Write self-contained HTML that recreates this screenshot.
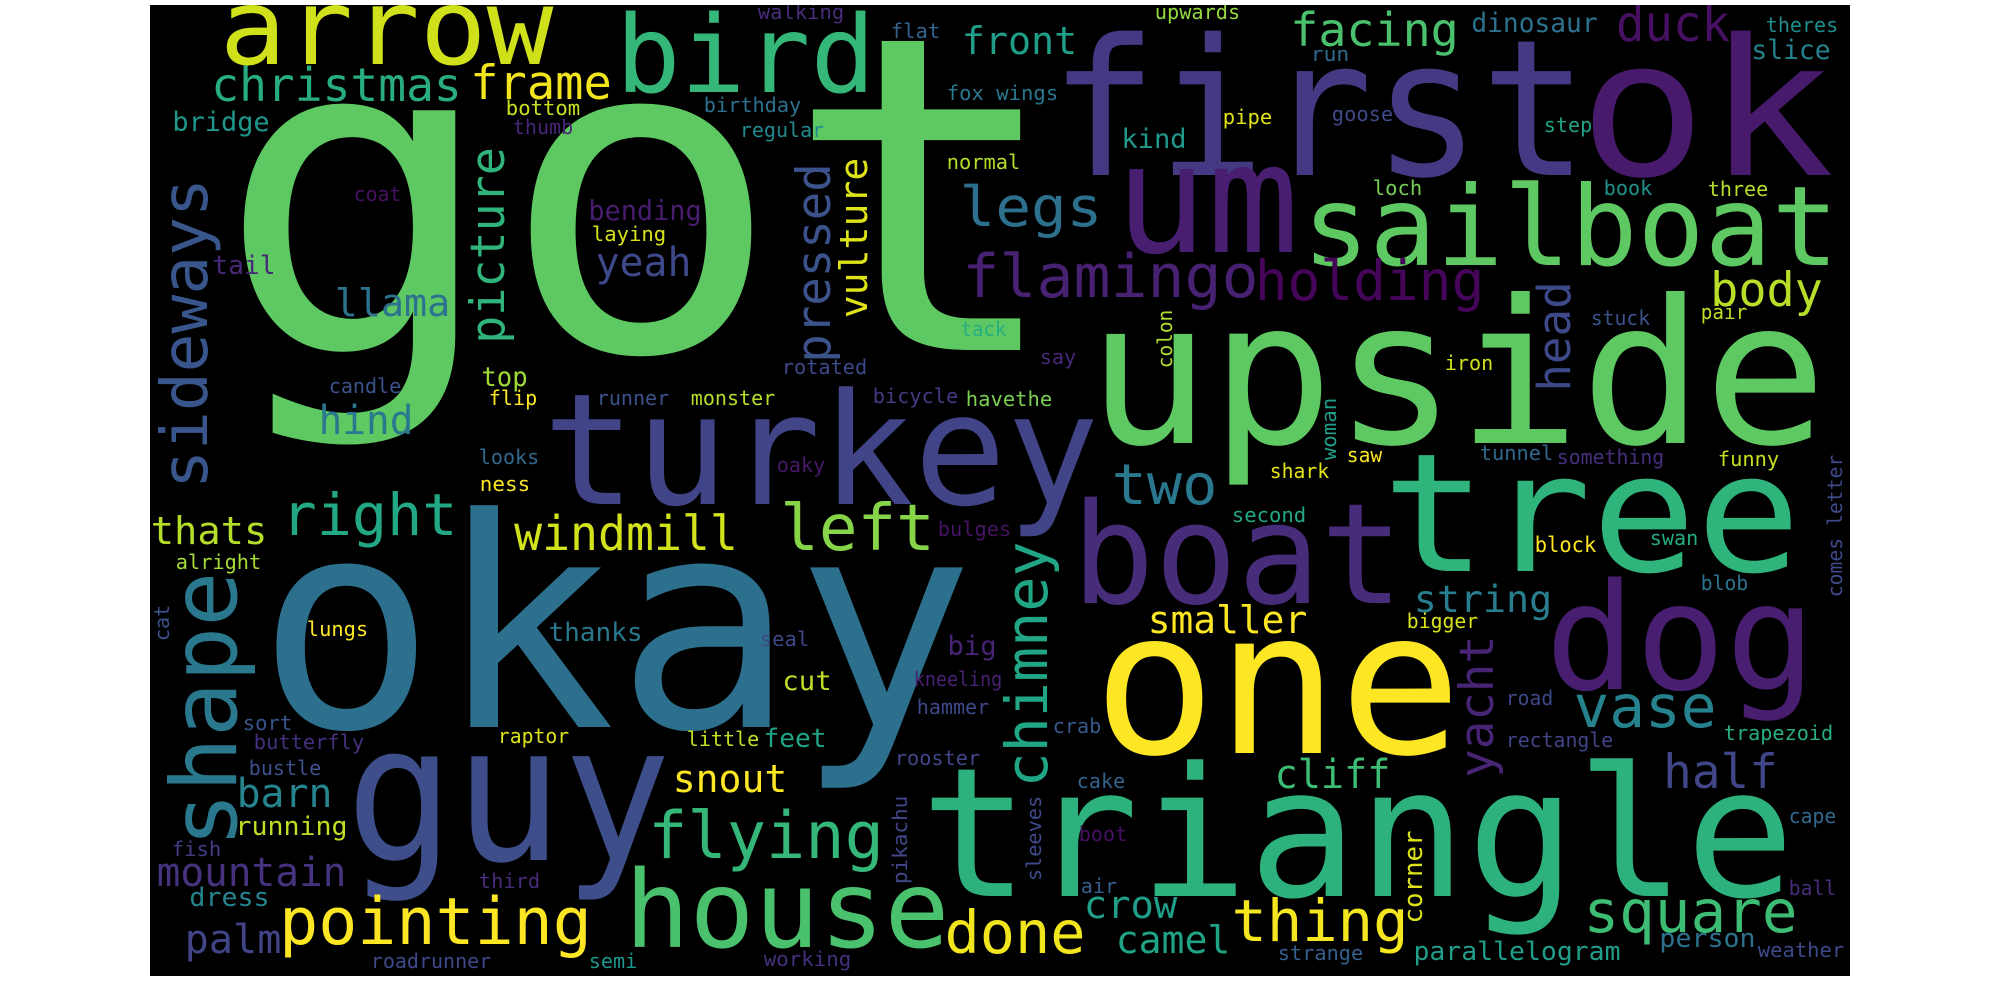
<!DOCTYPE html>
<html><head><meta charset="utf-8">
<style>
html,body{margin:0;padding:0;background:#fff;width:2000px;height:1000px;overflow:hidden}
svg{display:block}
text{font-family:"DejaVu Sans Mono","Liberation Mono",monospace;}
</style></head>
<body>
<svg id="cloud" width="2000" height="1000" viewBox="0 0 2000 1000" xmlns="http://www.w3.org/2000/svg">
<defs><clipPath id="clip"><rect x="150" y="5" width="1700" height="971"/></clipPath></defs>
<rect x="150" y="5" width="1700" height="971" fill="#000"/>
<g id="words" clip-path="url(#clip)"></g>
</svg>
<script>
// horizontal words: [word, left, right, baseline, fontSize, color]
const hWords = [
["got",242,1040,350,440,"#5ec962"],["arrow",226,547,64,105,"#d0e11c"],["bird",622,869,92,107,"#35b779"],
["christmas",214,459,101,46,"#27ad81"],["frame",473,609,99,47,"#f2e51d"],["bridge",174,268,131,27,"#1f988b"],
["bottom",507,579,115,20,"#c8e020"],["thumb",514,572,134,20,"#482677"],["birthday",705,800,112,20,"#2c728e"],
["regular",741,823,137,20,"#23898e"],["walking",759,843,19,20,"#472d7b"],["flat",892,939,38,20,"#33638d"],
["fox wings",948,1057,100,20,"#2a788e"],["front",964,1075,54,38,"#1f9e89"],["normal",948,1019,169,20,"#b5de2b"],
["coat",355,400,201,20,"#471164"],["tail",214,274,274,26,"#482878"],["bending",590,700,220,28,"#481d6f"],
["laying",593,665,241,20,"#d8e219"],["yeah",598,689,276,40,"#3e4989"],["llama",337,448,316,38,"#2c728e"],
["top",483,526,386,27,"#a0da39"],["candle",330,400,393,20,"#3b528b"],["hind",321,411,434,40,"#2a788e"],
["flip",490,536,405,20,"#fde725"],["runner",598,668,405,20,"#3b528b"],["monster",692,774,405,20,"#b5de2b"],
["rotated",783,866,374,20,"#3e4989"],["bicycle",874,957,403,20,"#443983"],["havethe",967,1051,406,20,"#7ad151"],
["tack",962,1005,336,20,"#26ad81"],["looks",480,538,464,20,"#31688e"],["ness",481,529,491,20,"#fde725"],
["oaky",778,824,472,20,"#48186a"],["turkey",552,1090,504,155,"#414487"],["thats",153,265,544,38,"#b5de2b"],
["right",285,454,535,58,"#22a884"],["windmill",517,735,550,48,"#d2e21b"],["left",784,931,550,64,"#86d549"],
["bulges",939,1010,536,20,"#471365"],["alright",177,260,569,20,"#a5db36"],["okay",274,957,727,292,"#2d708e"],
["lungs",308,367,636,20,"#fde725"],["thanks",550,641,641,26,"#2a788e"],["seal",761,808,646,20,"#3e4989"],
["big",949,995,655,27,"#482475"],["cut",784,830,690,27,"#bddf26"],["kneeling",915,1001,686,20,"#482173"],
["hammer",918,988,714,20,"#3e4989"],["sort",244,291,730,20,"#39558c"],["butterfly",255,363,749,20,"#46307e"],
["raptor",499,568,743,20,"#dde318"],["little",688,758,746,20,"#c2df23"],["feet",765,825,747,26,"#20a486"],
["rooster",896,979,765,20,"#404688"],["bustle",250,320,775,20,"#3b528b"],["barn",239,330,807,40,"#25848e"],
["snout",675,785,792,38,"#fde725"],["guy",357,660,860,190,"#3d4e8a"],["running",237,346,835,26,"#bddf26"],
["fish",173,220,856,20,"#433e85"],["flying",652,880,858,65,"#35b779"],["mountain",159,344,886,40,"#46327e"],
["third",480,539,888,20,"#472c7a"],["dress",191,268,906,26,"#25858e"],["house",631,943,947,107,"#4ac16d"],
["pointing",283,588,944,65,"#fde725"],["palm",187,279,953,40,"#414487"],["done",948,1082,953,59,"#f1e51d"],
["roadrunner",372,490,968,20,"#3e4989"],["semi",590,636,968,20,"#1f968b"],["working",765,850,966,20,"#46307e"],
["upwards",1156,1239,19,20,"#95d840"],["first",1061,1577,175,190,"#443983"],["ok",1590,1823,175,190,"#481a6c"],
["dinosaur",1473,1596,32,27,"#2c728e"],["duck",1619,1727,41,50,"#471063"],["theres",1767,1837,32,20,"#228c8d"],
["facing",1293,1456,46,46,"#4ac16d"],["run",1312,1348,61,20,"#31688e"],["slice",1753,1829,59,27,"#26818e"],
["goose",1333,1392,121,20,"#3e4a89"],["pipe",1224,1271,124,20,"#e2e418"],["step",1545,1591,132,20,"#20a386"],
["kind",1123,1185,148,27,"#1f9a8a"],["um",1124,1290,252,152,"#481f70"],["legs",963,1099,226,55,"#2d708e"],
["loch",1374,1421,195,20,"#75d054"],["book",1605,1651,195,20,"#20938c"],["three",1709,1767,196,20,"#b5de2b"],
["sailboat",1309,1832,265,111,"#5ec962"],["flamingo",966,1255,297,60,"#482173"],["holding",1258,1481,300,55,"#450559"],
["body",1713,1820,306,47,"#b8de29"],["stuck",1592,1649,325,20,"#3b528b"],["pair",1702,1746,319,20,"#bddf26"],
["say",1041,1075,364,20,"#482878"],["iron",1446,1492,370,20,"#d0e11c"],["upside",1099,1815,443,200,"#5ec962"],
["saw",1348,1381,462,20,"#fde725"],["shark",1271,1328,478,20,"#e5e419"],["tunnel",1481,1552,460,20,"#31688e"],
["something",1558,1663,464,20,"#472f7d"],["funny",1719,1778,466,20,"#c8e020"],["two",1115,1214,504,56,"#2a788e"],
["tree",1392,1791,571,165,"#2fb47c"],["boat",1080,1395,603,140,"#472c7a"],["second",1233,1305,522,20,"#22a785"],
["block",1536,1595,552,21,"#fde725"],["swan",1651,1697,545,20,"#25ab82"],["string",1416,1550,612,37,"#287d8e"],
["blob",1702,1747,590,20,"#2c728e"],["dog",1554,1807,689,148,"#481f70"],["smaller",1150,1305,633,38,"#fde725"],
["bigger",1408,1477,628,20,"#d8e219"],["one",1105,1450,753,200,"#fde725"],["road",1507,1552,705,20,"#3e4989"],
["vase",1577,1713,727,59,"#26828e"],["crab",1054,1100,733,20,"#38588c"],["rectangle",1507,1612,747,20,"#414487"],
["trapezoid",1725,1832,740,20,"#29af7f"],["cliff",1277,1388,788,40,"#3dbc74"],["half",1666,1775,788,47,"#404688"],
["cake",1078,1124,788,20,"#33638d"],["triangle",931,1784,896,180,"#2db27d"],["boot",1080,1126,841,20,"#471063"],
["cape",1790,1835,823,20,"#31688e"],["air",1082,1116,893,20,"#355f8d"],["ball",1790,1835,895,20,"#472d7b"],
["crow",1086,1175,918,38,"#1f9e89"],["square",1587,1794,932,59,"#3dbc74"],["thing",1235,1405,941,58,"#f6e620"],
["camel",1118,1228,953,38,"#20a486"],["parallelogram",1415,1619,960,26,"#1f9e89"],["person",1661,1754,947,26,"#2c728e"],
["weather",1759,1843,957,20,"#3e4989"],["strange",1279,1362,960,20,"#355f8d"]
];
// vertical words (rotated CCW): [word, baselineX, bottomY, topY, fontSize, color]
const vWords = [
["sideways",207,485,182,64,"#39568c"],["picture",504,341,150,47,"#2fb47c"],["pressed",830,360,166,47,"#3b528b"],
["vulture",867,316,160,38,"#dde318"],["cat",169,640,606,20,"#3b528b"],["shape",236,842,577,91,"#2a788e"],
["pikachu",907,883,797,20,"#404688"],["head",1570,389,284,45,"#3e4989"],["colon",1172,367,311,20,"#b0dd2f"],
["woman",1336,459,399,20,"#1f9e89"],["comes letter",1842,596,456,20,"#3e4989"],["chimney",1047,784,545,58,"#21a685"],
["yacht",1493,775,638,47,"#482475"],["sleeves",1041,880,797,20,"#3e4989"],["corner",1422,922,832,26,"#dde318"]
];
const NS = "http://www.w3.org/2000/svg";
const g = document.getElementById("words");
function slug(w){return w.replace(/\s+/g,'-');}
hWords.forEach(function(d){
  const t = document.createElementNS(NS,"text");
  
  
  const fs = d[4];
  t.setAttribute("x", d[1] - 0.06*fs);
  t.setAttribute("y", d[3]);
  t.setAttribute("font-size", fs);
  t.setAttribute("fill", d[5]);
  t.setAttribute("textLength", (d[2]-d[1]) + 0.12*fs);
  t.setAttribute("lengthAdjust", "spacingAndGlyphs");
  t.textContent = d[0];
  g.appendChild(t);
});
vWords.forEach(function(d){
  const t = document.createElementNS(NS,"text");
  
  
  const fs = d[4];
  t.setAttribute("transform", "translate(" + d[1] + "," + d[2] + ") rotate(-90)");
  t.setAttribute("x", -0.06*fs);
  t.setAttribute("y", 0);
  t.setAttribute("font-size", fs);
  t.setAttribute("fill", d[5]);
  t.setAttribute("textLength", (d[2]-d[3]) + 0.12*fs);
  t.setAttribute("lengthAdjust", "spacingAndGlyphs");
  t.textContent = d[0];
  g.appendChild(t);
});
</script>
</body></html>
